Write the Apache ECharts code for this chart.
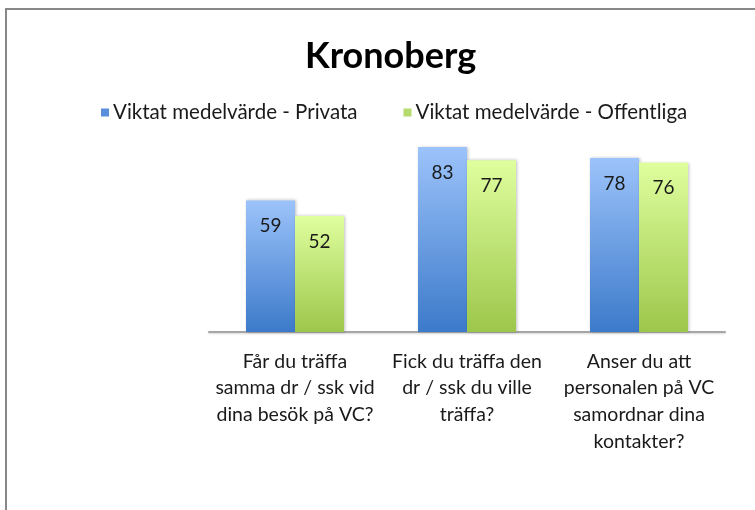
<!DOCTYPE html>
<html><head><meta charset="utf-8">
<script src="https://cdn.jsdelivr.net/npm/echarts@6/dist/echarts.min.js"></script>
<style>html,body{margin:0;padding:0;background:#fff}#c{width:755px;height:510px}</style>
</head><body><div id="c"></div>
<script>
const titleText = 'Kronoberg';
const categories = [
  'Får du träffa\nsamma dr / ssk vid\ndina besök på VC?',
  'Fick du träffa den\ndr / ssk du ville\nträffa?',
  'Anser du att\npersonalen på VC\nsamordnar dina\nkontakter?'
];
const seriesNames = ['Viktat medelvärde - Privata', 'Viktat medelvärde - Offentliga'];
const privata = [59, 83, 78];
const offentliga = [52, 77, 76];

const FONT = 'Lato, "Noto Sans", sans-serif';
const chart = echarts.init(document.getElementById('c'), null, {renderer: 'canvas'});
const blueGrad = new echarts.graphic.LinearGradient(0, 0, 0, 1, [
  {offset: 0, color: '#9CC3FA'}, {offset: 1, color: '#3C7ACA'}]);
const greenGrad = new echarts.graphic.LinearGradient(0, 0, 0, 1, [
  {offset: 0, color: '#DFFE9E'}, {offset: 1, color: '#9DC74B'}]);
const labelCfg = {show: true, position: 'insideTop', distance: 16, color: '#1a1a1a',
  fontFamily: FONT, fontSize: 19};
chart.setOption({
  animation: false,
  backgroundColor: '#fff',
  graphic: [{type: 'rect', shape: {x: 6, y: 9, width: 800, height: 600},
    style: {fill: 'none', stroke: '#888', lineWidth: 2}, z: 100}],
  title: {text: titleText, left: 300, top: 33,
    textStyle: {fontFamily: FONT, fontSize: 36, fontWeight: 'bold', color: '#000'}},
  legend: {top: 97, left: 96, itemWidth: 8, itemHeight: 8, itemGap: 46,
    icon: 'rect',
    textStyle: {fontFamily: FONT, fontSize: 20.5, color: '#1a1a1a', padding: [0,0,0,-1]},
    data: [{name: seriesNames[0], itemStyle: {color: '#5A8FDC'}},
           {name: seriesNames[1], itemStyle: {color: '#B5DB6C'}}]},
  grid: {left: 209, right: 30, top: 109, bottom: 178, containLabel: false},
  xAxis: {type: 'category', data: categories,
    axisLine: {lineStyle: {color: '#A6A6A6', width: 2, shadowColor: 'rgba(0,0,0,0.15)', shadowBlur: 2, shadowOffsetY: 1}},
    axisTick: {show: false},
    axisLabel: {interval: 0, margin: 16, fontFamily: FONT, fontSize: 19.5, lineHeight: 26.7, color: '#1a1a1a', align: 'center'}},
  yAxis: {type: 'value', min: 0, max: 100, show: false, splitLine: {show: false}},
  series: [
    {name: seriesNames[0], type: 'bar', data: privata, barWidth: 49, barGap: '0%',
      itemStyle: {color: blueGrad, shadowColor: 'rgba(0,0,0,0.25)', shadowBlur: 3, shadowOffsetX: 1},
      label: labelCfg},
    {name: seriesNames[1], type: 'bar', data: offentliga, barWidth: 49,
      itemStyle: {color: greenGrad, shadowColor: 'rgba(0,0,0,0.25)', shadowBlur: 3, shadowOffsetX: 1},
      label: labelCfg}
  ]
});
</script></body></html>
